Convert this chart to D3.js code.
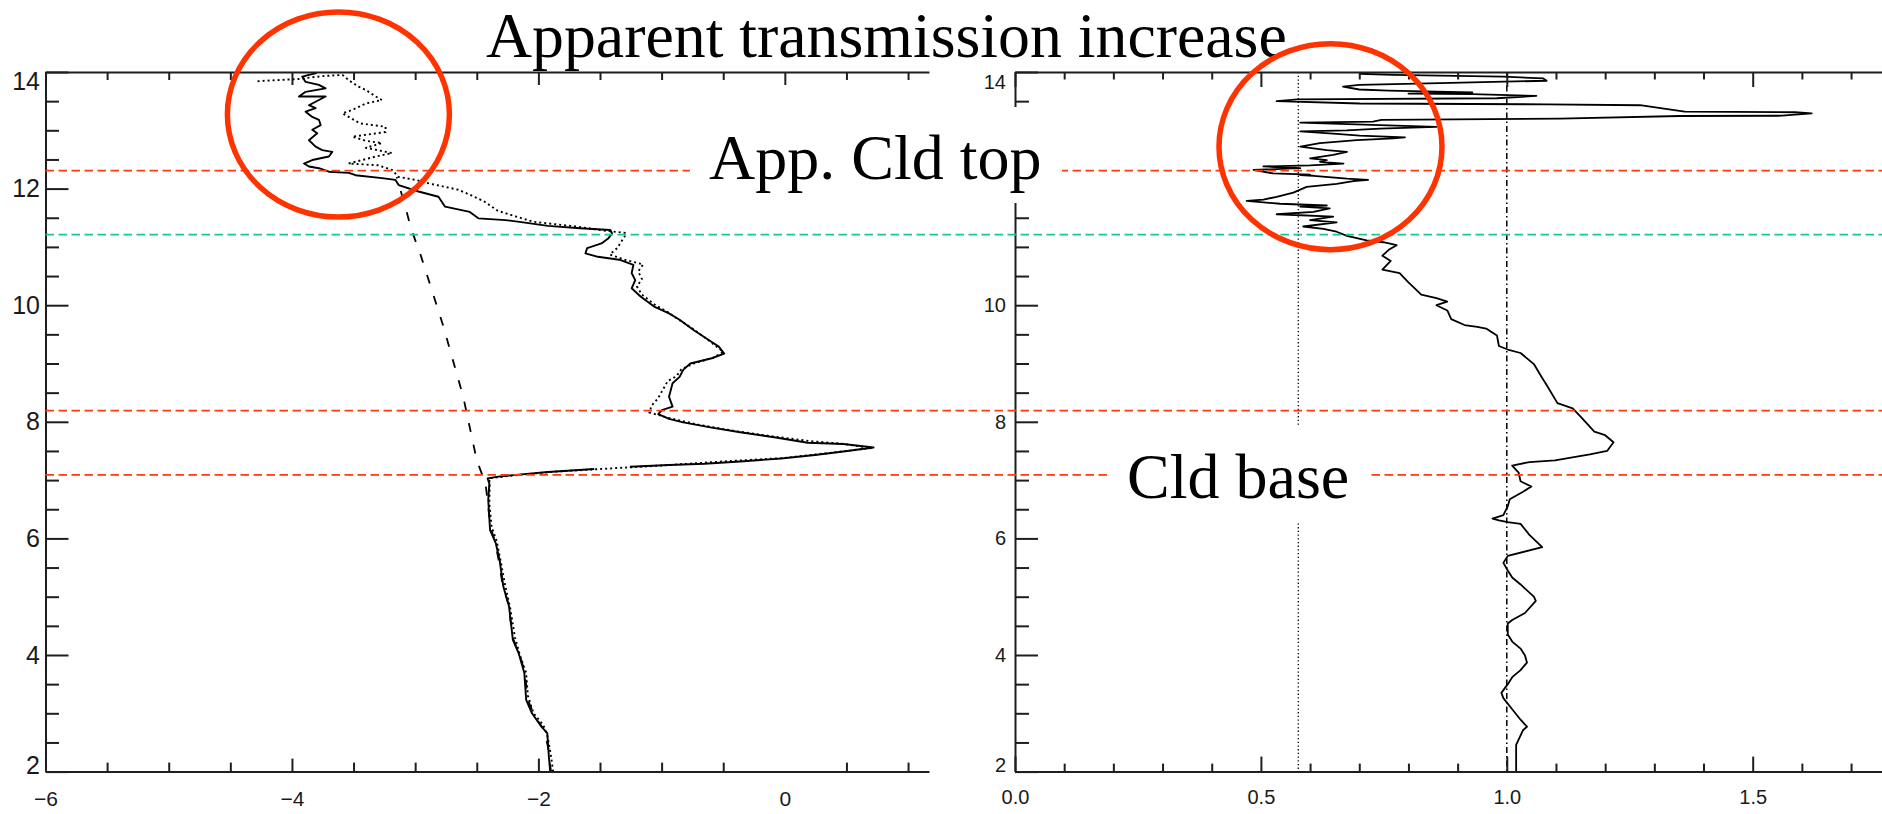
<!DOCTYPE html>
<html>
<head>
<meta charset="utf-8">
<script src="https://cdn.jsdelivr.net/npm/d3@7"></script>
<style>
  html, body { margin: 0; padding: 0; background: #ffffff; }
  svg { display: block; }
</style>
</head>
<body>
<svg id="chart" width="1882" height="814"></svg>
<script>
// ---------------------------------------------------------------
// Profiles: each point is [value, altitude (km)], listed bottom-up.
// A null entry marks a gap in the record.
// ---------------------------------------------------------------

// Left panel – measured profile (solid)
const leftSolid = [
  [-1.897,2.00],[-1.913,2.20],[-1.928,2.66],[-1.975,2.77],[-2.052,3.00],[-2.099,3.23],
  [-2.114,3.69],[-2.160,4.03],[-2.207,4.26],[-2.238,4.83],[-2.284,5.17],[-2.315,5.63],
  [-2.346,5.92],[-2.392,6.14],[-2.407,6.66],[-2.398,6.94],[-2.412,7.03],[-2.326,7.06],
  [-2.181,7.09],[-1.922,7.14],[-1.547,7.19],
  null,
  [-1.258,7.23],[-0.940,7.26],[-0.652,7.28],[-0.362,7.32],[-0.031,7.37],[0.245,7.43],
  [0.475,7.49],[0.720,7.56],[0.475,7.62],[0.186,7.64],[-0.074,7.73],[-0.362,7.82],
  [-0.593,7.90],[-0.825,7.99],[-0.940,8.05],[-1.027,8.13],[-0.998,8.20],[-0.911,8.26],
  [-0.940,8.43],[-0.911,8.66],[-0.854,8.77],[-0.825,8.89],[-0.767,9.00],[-0.593,9.09],
  [-0.492,9.17],[-0.536,9.29],[-0.593,9.37],[-0.738,9.57],[-0.854,9.75],[-0.940,9.86],
  [-1.056,9.97],[-1.171,10.15],[-1.243,10.29],[-1.214,10.43],[-1.243,10.55],[-1.229,10.69],
  [-1.344,10.78],[-1.517,10.83],[-1.618,10.89],[-1.604,10.98],[-1.488,11.06],[-1.431,11.15],
  [-1.402,11.23],[-1.416,11.29],[-1.662,11.32],[-1.922,11.36],[-2.153,11.43],[-2.268,11.46],
  [-2.487,11.49],[-2.557,11.60],[-2.757,11.69],[-2.811,11.86],[-2.973,11.95],[-3.134,12.06],
  [-3.161,12.15],[-3.269,12.18],[-3.484,12.23],[-3.538,12.27],[-3.700,12.29],[-3.781,12.35],
  [-3.862,12.38],[-3.902,12.43],[-3.835,12.49],[-3.700,12.55],[-3.673,12.63],[-3.754,12.66],
  [-3.808,12.72],[-3.862,12.83],[-3.795,12.95],[-3.835,13.01],[-3.767,13.09],[-3.781,13.18],
  [-3.835,13.23],[-3.889,13.32],[-3.808,13.38],[-3.862,13.43],[-3.781,13.52],[-3.727,13.58],
  [-3.943,13.58],[-3.889,13.66],[-3.727,13.72],[-3.781,13.78],[-3.889,13.83],[-3.916,13.92],
  [-3.862,13.95],[-3.800,13.98]
];

// Left panel – second profile (dotted)
const leftDotted = [
  [-1.880,2.00],[-1.900,2.30],[-1.925,2.60],[-1.960,2.80],[-2.040,3.00],[-2.085,3.30],
  [-2.100,3.70],[-2.150,4.00],[-2.190,4.30],[-2.228,4.80],[-2.270,5.20],[-2.305,5.60],
  [-2.338,5.95],[-2.380,6.20],[-2.398,6.60],[-2.395,6.95],[-2.400,7.03],[-2.200,7.08],
  [-1.900,7.14],[-1.500,7.19],[-1.000,7.25],[-0.500,7.32],[0.000,7.38],[0.250,7.44],
  [0.500,7.50],[0.700,7.55],[0.480,7.62],[0.200,7.67],[-0.100,7.75],[-0.400,7.84],
  [-0.700,7.95],[-0.950,8.07],[-1.100,8.16],[-1.080,8.28],[-1.030,8.40],[-0.990,8.55],
  [-0.950,8.70],[-0.880,8.78],[-0.840,8.90],[-0.740,9.00],[-0.580,9.10],[-0.500,9.20],
  [-0.560,9.30],[-0.620,9.40],[-0.750,9.60],[-0.860,9.75],[-0.950,9.88],[-1.050,10.00],
  [-1.160,10.18],[-1.200,10.32],[-1.160,10.45],[-1.190,10.58],[-1.150,10.70],[-1.300,10.78],
  [-1.420,10.87],[-1.360,10.98],[-1.330,11.08],[-1.300,11.18],[-1.290,11.24],[-1.430,11.27],
  [-1.690,11.35],[-2.040,11.43],[-2.180,11.52],[-2.330,11.62],[-2.440,11.78],[-2.540,11.88],
  [-2.650,11.98],[-2.890,12.09],[-3.000,12.15],[-3.134,12.20],[-3.188,12.32],[-3.300,12.40],
  [-3.540,12.43],[-3.430,12.49],[-3.320,12.55],[-3.188,12.61],[-3.400,12.70],[-3.270,12.78],
  [-3.400,12.82],[-3.510,12.89],[-3.240,12.97],[-3.240,13.06],[-3.450,13.12],[-3.590,13.29],
  [-3.510,13.35],[-3.400,13.46],[-3.270,13.52],[-3.320,13.58],[-3.400,13.69],[-3.460,13.75],
  [-3.540,13.86],[-3.590,13.95],[-3.750,13.93],[-3.950,13.88],[-4.300,13.84]
];

// Left panel – clear-sky reference (dashed)
const leftDashed = [
  [-1.905,2.00],[-1.920,2.40],[-1.950,2.70],[-2.030,2.95],[-2.090,3.25],[-2.108,3.70],
  [-2.160,4.05],[-2.210,4.30],[-2.240,4.85],[-2.290,5.20],[-2.320,5.60],[-2.352,5.95],
  [-2.390,6.20],[-2.415,6.70],[-2.430,6.95],[-2.470,7.17],[-2.500,7.34],[-2.610,8.43],
  [-2.770,9.63],[-2.960,10.89],[-3.030,11.29],[-3.080,11.69],[-3.130,12.05],[-3.150,12.20]
];

// Right panel – transmission ratio profile
const rightRatio = [
  [1.019,2.00],[1.019,2.46],[1.033,2.71],[1.041,2.77],[1.028,2.89],[1.011,3.07],[0.993,3.26],
  [0.989,3.35],[1.002,3.50],[1.011,3.62],[1.028,3.74],[1.041,3.87],[1.037,3.99],[1.028,4.11],
  [1.011,4.23],[1.002,4.35],[1.002,4.54],[1.011,4.60],[1.037,4.72],[1.059,4.93],[1.055,5.00],
  [1.028,5.21],[1.011,5.33],[1.002,5.45],[0.993,5.58],[1.002,5.70],[1.072,5.85],[1.046,6.06],
  [1.028,6.25],[1.002,6.28],[0.984,6.31],[0.971,6.34],[0.993,6.40],[1.002,6.55],[1.006,6.67],
  [1.033,6.80],[1.050,6.89],[1.028,6.98],[1.024,7.13],[1.011,7.25],[1.046,7.31],[1.098,7.34],
  [1.169,7.44],[1.204,7.50],[1.217,7.65],[1.200,7.77],[1.178,7.83],[1.151,8.08],[1.134,8.23],
  [1.103,8.32],[1.081,8.63],[1.072,8.75],[1.055,8.99],[1.028,9.18],[1.002,9.24],[0.984,9.30],
  [0.980,9.48],[0.958,9.60],[0.940,9.63],[0.914,9.66],[0.887,9.76],[0.879,9.91],[0.857,10.00],
  [0.879,10.06],[0.857,10.12],[0.826,10.18],[0.799,10.40],[0.782,10.55],[0.747,10.61],
  [0.764,10.76],[0.747,10.85],[0.760,10.95],[0.776,11.03],[0.749,11.08],[0.715,11.11],
  [0.675,11.19],[0.654,11.26],[0.627,11.31],[0.586,11.35],[0.654,11.42],[0.600,11.46],
  [0.647,11.52],[0.532,11.56],[0.607,11.60],[0.640,11.66],[0.580,11.69],[0.634,11.71],
  [0.539,11.74],[0.471,11.79],[0.505,11.81],[0.532,11.86],[0.566,11.93],[0.593,12.03],
  [0.654,12.08],[0.688,12.13],[0.718,12.15],[0.675,12.17],[0.607,12.22],[0.580,12.23],
  [0.600,12.24],[0.525,12.26],[0.485,12.32],[0.580,12.35],[0.505,12.38],[0.600,12.40],
  [0.668,12.43],[0.620,12.46],[0.634,12.49],[0.600,12.52],[0.647,12.58],[0.675,12.63],
  [0.634,12.66],[0.580,12.72],[0.620,12.78],[0.695,12.83],[0.769,12.86],[0.793,12.88],
  [0.701,12.91],[0.654,12.94],[0.580,12.98],[0.675,13.00],[0.742,13.03],[0.857,13.06],
  [0.742,13.09],[0.580,13.13],[0.728,13.15],[0.745,13.18],[1.108,13.20],[1.352,13.245],
  [1.560,13.25],[1.620,13.29],[1.586,13.31],[1.362,13.32],[1.316,13.375],[1.271,13.43],
  [1.081,13.445],[0.701,13.46],[0.532,13.50],[0.575,13.53],[0.980,13.55],[1.060,13.59],
  [0.930,13.62],[0.800,13.63],[0.930,13.65],[0.760,13.68],[0.700,13.70],[0.667,13.75],
  [0.700,13.78],[0.864,13.81],[1.081,13.85],[1.074,13.89],[0.993,13.92],[0.769,13.95],
  [0.701,13.97],[0.720,14.00]
];

// Cloud levels (km): apparent top, mid level, upper base, cloud base
const levelAlts  = [12.31, 11.21, 8.19, 7.09];
// Reference ratios marked in the right panel
const ratioRefs  = [0.576, 1.0];

// Axis tick labels
const altLabels      = [2, 4, 6, 8, 10, 12, 14];
const rightAltLabels = [2, 4, 6, 8, 10, 14];   // 12 sits under the "App. Cld top" label box
const leftXLabels    = [-6, -4, -2, 0];
const leftXMajor     = [-6, -4, -2];
const rightXLabels   = [0.0, 0.5, 1.0, 1.5];

// Annotation text
const titleText = "Apparent transmission increase";
const topText   = "App. Cld top";
const baseText  = "Cld base";

// ---------------------------------------------------------------
const svg = d3.select("#chart");
svg.append("rect").attr("width", 1882).attr("height", 814).attr("fill", "#ffffff");

const yTop = 72, yBot = 771.6;
const y  = d3.scaleLinear().domain([2, 14]).range([yBot, yTop]);
const xL = d3.scaleLinear().domain([-6, 1.17]).range([45.5, 929]);
const xR = d3.scaleLinear().domain([0, 2]).range([1015, 1998.6]);

const AXC = "#1e1e1e", AXW = 2;
const RED = "#ff3a12", GREEN = "#14c98f";
const minus = d => d < 0 ? "\u2212" + Math.abs(d) : String(d);

const near = (a, b) => Math.abs(a - b) < 1e-6;
const altMinor    = d3.range(2, 14.001, 0.5).filter(v => !altLabels.some(m => near(m, v)));
const leftXMinor  = d3.range(-6, 1.17, 0.5).filter(v => !leftXLabels.some(m => near(m, v)));
const rightXMinor = d3.range(0, 2.0001, 0.1).filter(v => !near(Math.round(v * 2) / 2, v));

// clip regions
const defs = svg.append("defs");
defs.append("clipPath").attr("id", "clipL").append("rect")
  .attr("x", xL(-6)).attr("y", yTop).attr("width", xL(1.17) - xL(-6)).attr("height", yBot - yTop);
defs.append("clipPath").attr("id", "clipR").append("rect")
  .attr("x", xR(0)).attr("y", yTop).attr("width", 1882 - xR(0)).attr("height", yBot - yTop);

// reference ratio verticals (right panel)
const refG = svg.append("g").attr("clip-path", "url(#clipR)");
refG.append("line")
  .attr("x1", xR(ratioRefs[0])).attr("x2", xR(ratioRefs[0]))
  .attr("y1", y(14)).attr("y2", y(2))
  .attr("stroke", "#000").attr("stroke-width", 1.3).attr("stroke-dasharray", "1.3,2.4");
refG.append("line")
  .attr("x1", xR(ratioRefs[1])).attr("x2", xR(ratioRefs[1]))
  .attr("y1", y(14)).attr("y2", y(2))
  .attr("stroke", "#000").attr("stroke-width", 1.5).attr("stroke-dasharray", "6,3,1.5,3");

// profiles
const lineL = d3.line().defined(d => d !== null).x(d => xL(d[0])).y(d => y(d[1]));
const lineR = d3.line().defined(d => d !== null).x(d => xR(d[0])).y(d => y(d[1]));

const gL = svg.append("g").attr("clip-path", "url(#clipL)").attr("fill", "none")
  .attr("stroke", "#000").attr("stroke-linejoin", "round");
gL.append("path").attr("d", lineL(leftDashed)).attr("stroke-width", 1.8).attr("stroke-dasharray", "9,13");
gL.append("path").attr("d", lineL(leftDotted)).attr("stroke-width", 1.9).attr("stroke-dasharray", "2,3");
gL.append("path").attr("d", lineL(leftSolid)).attr("stroke-width", 1.9);

svg.append("g").attr("clip-path", "url(#clipR)").append("path")
  .attr("d", lineR(rightRatio)).attr("fill", "none").attr("stroke", "#000")
  .attr("stroke-width", 1.8).attr("stroke-linejoin", "round");

// axes
function tidy(g) {
  g.attr("font-family", "'Liberation Sans', Arial, sans-serif");
  g.selectAll(".domain").attr("stroke", AXC).attr("stroke-width", AXW);
  g.selectAll(".tick line").attr("stroke", AXC).attr("stroke-width", AXW);
  g.selectAll(".tick text").attr("fill", "#1a1a1a");
}
function ticksOnly(g) { tidy(g); g.select(".domain").remove(); }

// left panel: bottom
svg.append("g").attr("transform", `translate(0,${yBot})`)
  .call(d3.axisBottom(xL).tickValues(leftXLabels).tickSize(0).tickSizeOuter(0)
    .tickPadding(19).tickFormat(minus))
  .call(tidy).attr("font-size", 21);
svg.append("g").attr("transform", `translate(0,${yBot})`)
  .call(d3.axisBottom(xL).tickValues(leftXMajor).tickSize(-13).tickFormat("")).call(ticksOnly);
svg.append("g").attr("transform", `translate(0,${yBot})`)
  .call(d3.axisBottom(xL).tickValues(leftXMinor).tickSize(-9).tickFormat("")).call(ticksOnly);
// left panel: top
svg.append("g").attr("transform", `translate(0,${yTop})`)
  .call(d3.axisTop(xL).tickValues(leftXLabels).tickSize(-13).tickSizeOuter(0).tickFormat("")).call(tidy);
svg.append("g").attr("transform", `translate(0,${yTop})`)
  .call(d3.axisTop(xL).tickValues(leftXMinor).tickSize(-8).tickFormat("")).call(ticksOnly);
// left panel: altitude axis
const leftY = svg.append("g").attr("transform", `translate(${xL(-6)},0)`)
  .call(d3.axisLeft(y).tickValues(altLabels).tickSize(-23).tickSizeOuter(0).tickPadding(5.5).tickFormat(d3.format("d")))
  .call(tidy).attr("font-size", 25);
svg.append("g").attr("transform", `translate(${xL(-6)},0)`)
  .call(d3.axisLeft(y).tickValues(altMinor).tickSize(-13.5).tickFormat("")).call(ticksOnly);
leftY.selectAll(".tick text").filter(d => d === 14).attr("y", 9);
leftY.selectAll(".tick text").filter(d => d === 2).attr("y", -6);

// right panel: bottom
svg.append("g").attr("transform", `translate(0,${yBot})`)
  .call(d3.axisBottom(xR).tickValues(rightXLabels).tickSize(-15).tickSizeOuter(0)
    .tickPadding(18).tickFormat(d3.format(".1f")))
  .call(tidy).attr("font-size", 20);
svg.append("g").attr("transform", `translate(0,${yBot})`)
  .call(d3.axisBottom(xR).tickValues(rightXMinor).tickSize(-8).tickFormat("")).call(ticksOnly);
// right panel: top
svg.append("g").attr("transform", `translate(0,${yTop})`)
  .call(d3.axisTop(xR).tickValues(rightXLabels).tickSize(-15).tickSizeOuter(0).tickFormat("")).call(tidy);
svg.append("g").attr("transform", `translate(0,${yTop})`)
  .call(d3.axisTop(xR).tickValues(rightXMinor).tickSize(-7.5).tickFormat("")).call(ticksOnly);
// right panel: altitude axis (major ticks, then labels, then minor ticks)
svg.append("g").attr("transform", `translate(${xR(0)},0)`)
  .call(d3.axisLeft(y).tickValues(altLabels).tickSize(-23).tickSizeOuter(0).tickFormat(""))
  .call(tidy);
const rightY = svg.append("g").attr("transform", `translate(${xR(0)},0)`)
  .call(d3.axisLeft(y).tickValues(rightAltLabels).tickSize(0).tickPadding(9).tickFormat(d3.format("d")))
  .call(ticksOnly).attr("font-size", 20);
svg.append("g").attr("transform", `translate(${xR(0)},0)`)
  .call(d3.axisLeft(y).tickValues(altMinor).tickSize(-14).tickFormat("")).call(ticksOnly);
rightY.selectAll(".tick text").filter(d => d === 14).attr("y", 10);
rightY.selectAll(".tick text").filter(d => d === 2).attr("y", -7);

// cloud level markers across both panels
const levelColors = [RED, GREEN, RED, RED];
svg.append("g").selectAll("line").data(levelAlts).join("line")
  .attr("x1", xL(-6)).attr("x2", 1882)
  .attr("y1", d => y(d)).attr("y2", d => y(d))
  .attr("stroke", (d, i) => levelColors[i]).attr("stroke-width", 1.8)
  .attr("stroke-dasharray", "8.5,4.5");

// annotations
const serif = "'Liberation Serif', 'Times New Roman', serif";
svg.append("text").attr("x", 486).attr("y", 57)
  .attr("font-family", serif).attr("font-size", 63.8).attr("fill", "#000").text(titleText);

svg.append("rect").attr("x", 690).attr("y", 107).attr("width", 372).attr("height", 96).attr("fill", "#fff");
svg.append("text").attr("x", 709).attr("y", 179)
  .attr("font-family", serif).attr("font-size", 64).attr("fill", "#000").text(topText);

svg.append("rect").attr("x", 1107).attr("y", 425).attr("width", 261).attr("height", 98).attr("fill", "#fff");
svg.append("text").attr("x", 1127).attr("y", 498)
  .attr("font-family", serif).attr("font-size", 64).attr("fill", "#000").text(baseText);

// highlight rings around the upper-cloud region
const rings = [
  { cx: xL(-3.623), cy: y(13.271), rx: 111, ry: 102.5 },
  { cx: xR(0.6415), cy: y(12.719), rx: 111.5, ry: 103 }
];
svg.append("g").selectAll("ellipse").data(rings).join("ellipse")
  .attr("cx", d => d.cx).attr("cy", d => d.cy).attr("rx", d => d.rx).attr("ry", d => d.ry)
  .attr("fill", "none").attr("stroke", "#ff3300").attr("stroke-width", 5.5);
</script>
</body>
</html>
